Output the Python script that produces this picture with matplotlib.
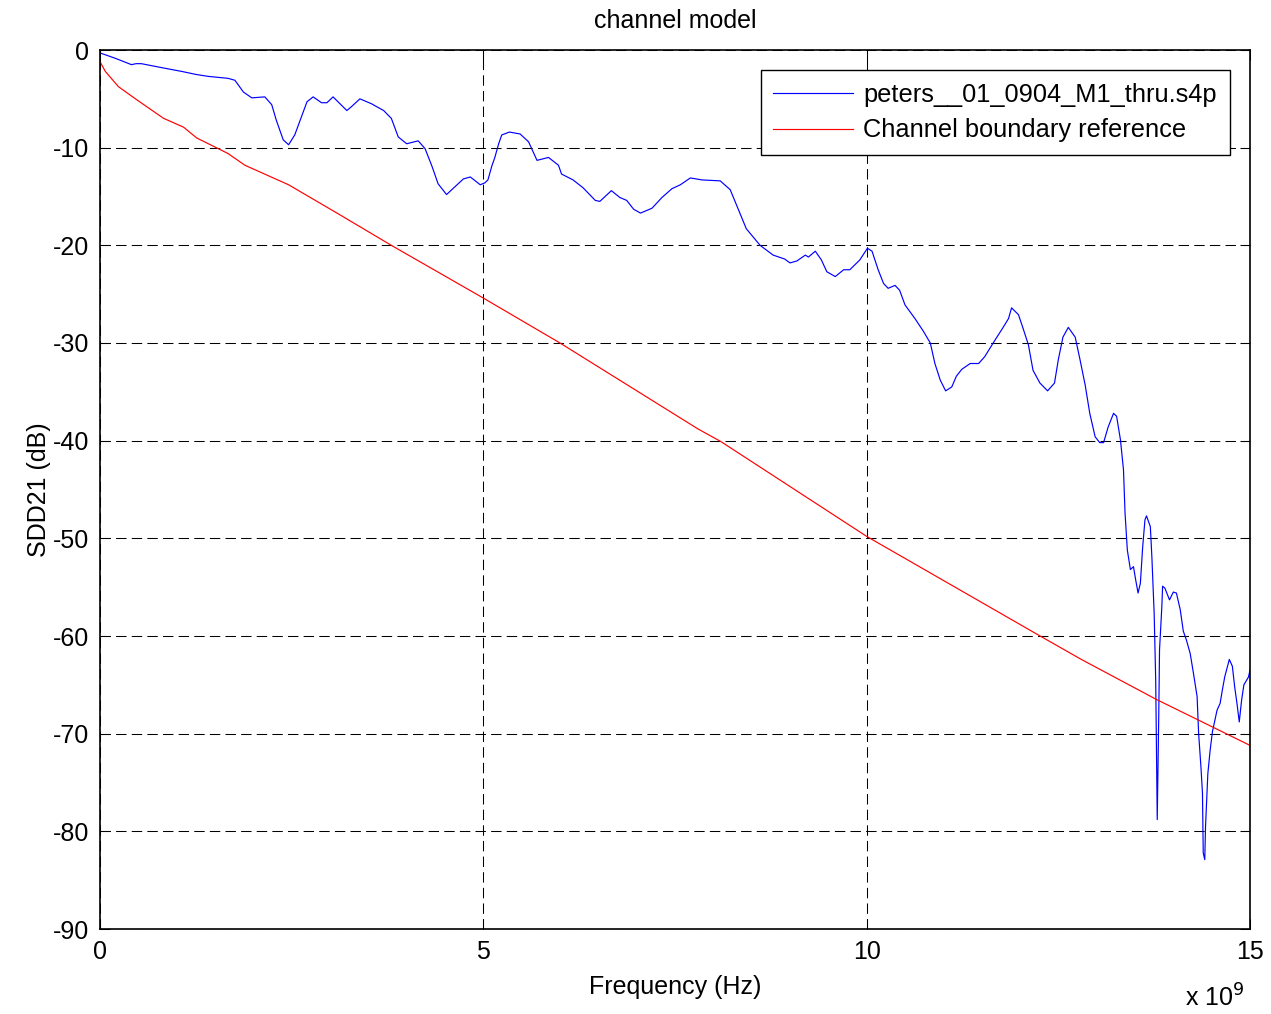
import numpy as np
import matplotlib
matplotlib.use("Agg")
import matplotlib.pyplot as plt
from matplotlib.ticker import FuncFormatter, MultipleLocator

plt.rcParams['font.family'] = ['Liberation Sans', 'DejaVu Sans']
plt.rcParams['font.size'] = 18
plt.rcParams['axes.unicode_minus'] = False

# measured thru channel, SDD21 in dB (frequency in GHz)
thru_ghz = [
    0.00, 0.20, 0.33, 0.41, 0.47, 0.54, 0.67, 0.80, 1.07, 1.25, 1.41, 1.67, 1.76, 1.87,
    1.98, 2.15, 2.24, 2.30,
    2.39, 2.46, 2.54, 2.63, 2.70, 2.78, 2.89, 2.96, 3.04, 3.13, 3.22, 3.28, 3.39, 3.54,
    3.70, 3.80, 3.89, 4.00, 4.15, 4.24, 4.33, 4.41, 4.52, 4.63, 4.74, 4.83, 4.96, 5.02,
    5.06, 5.11, 5.15, 5.20, 5.24, 5.34, 5.48, 5.59, 5.70, 5.85, 5.98, 6.02, 6.17, 6.30,
    6.46, 6.52, 6.67, 6.78, 6.87, 6.96, 7.05, 7.20, 7.33, 7.46, 7.57, 7.70, 7.85, 8.09,
    8.22, 8.33, 8.43, 8.61, 8.78, 8.93, 9.00, 9.09, 9.20, 9.24, 9.33, 9.41, 9.48, 9.59,
    9.70, 9.78, 9.91, 10.01, 10.07, 10.15, 10.22, 10.28, 10.37, 10.43, 10.50, 10.63,
    10.74, 10.83, 10.89, 10.96, 11.03, 11.11, 11.17, 11.24, 11.35, 11.46, 11.54, 11.65,
    11.78, 11.85, 11.89, 11.98, 12.04, 12.11, 12.17, 12.26, 12.36, 12.45, 12.50, 12.56,
    12.63, 12.72, 12.78, 12.85, 12.91, 12.98, 13.04, 13.09, 13.15, 13.22, 13.26, 13.31,
    13.35, 13.37, 13.40, 13.44, 13.48, 13.51, 13.54, 13.57, 13.60, 13.63, 13.65, 13.70,
    13.72, 13.75, 13.77, 13.79, 13.81, 13.82, 13.85, 13.86, 13.89, 13.95, 14.00, 14.04,
    14.09, 14.13, 14.17, 14.22, 14.26, 14.31, 14.33, 14.36, 14.38, 14.39, 14.41, 14.42,
    14.45, 14.48, 14.51, 14.57, 14.61, 14.64, 14.67, 14.73, 14.77, 14.80, 14.83, 14.86,
    14.89, 14.92, 14.98, 15.00,
]
thru_db = [
    -0.3, -0.85, -1.25, -1.5, -1.4, -1.4, -1.6, -1.8, -2.2, -2.5, -2.7, -2.9, -3.1, -4.3,
    -4.9, -4.8, -5.6, -7.2,
    -9.2, -9.7, -8.7, -6.8, -5.3, -4.8, -5.4, -5.4, -4.8, -5.5, -6.2, -5.8, -5.0, -5.5,
    -6.2, -7.0, -8.9, -9.6, -9.3, -10.1, -11.9, -13.7, -14.8, -14.0, -13.2, -13.0, -13.8, -13.6,
    -13.3, -11.9, -11.0, -9.6, -8.7, -8.4, -8.6, -9.4, -11.3, -11.0, -11.8, -12.7, -13.3, -14.1,
    -15.4, -15.5, -14.4, -15.1, -15.4, -16.3, -16.7, -16.2, -15.1, -14.2, -13.8, -13.1, -13.3, -13.4,
    -14.3, -16.4, -18.3, -20.0, -21.0, -21.4, -21.8, -21.6, -21.0, -21.2, -20.6, -21.5, -22.7, -23.2,
    -22.5, -22.5, -21.5, -20.3, -20.6, -22.5, -23.9, -24.4, -24.1, -24.6, -26.1, -27.5,
    -28.8, -30.0, -32.1, -33.8, -34.9, -34.5, -33.4, -32.7, -32.1, -32.1, -31.4, -30.0,
    -28.4, -27.5, -26.4, -27.1, -28.5, -30.2, -32.8, -34.1, -34.9, -34.1, -31.7, -29.4,
    -28.4, -29.4, -31.6, -34.3, -37.2, -39.6, -40.2, -40.2, -38.6, -37.2, -37.5, -39.9,
    -43.0, -47.4, -51.2, -53.2, -52.9, -54.3, -55.6, -54.6, -50.9, -48.1, -47.7, -48.8,
    -51.9, -57.7, -64.5, -78.8, -68.0, -61.4, -57.0, -54.9, -55.1, -56.3, -55.5, -55.6,
    -57.3, -59.5, -60.4, -61.8, -63.7, -66.2, -70.0, -73.4, -76.1, -82.2, -82.9, -79.5,
    -74.1, -71.7, -69.8, -67.6, -66.9, -65.5, -64.2, -62.4, -63.1, -65.2, -66.9, -68.8,
    -66.6, -65.0, -64.2, -63.5,
]

# channel boundary reference line
ref_ghz = [0.00, 0.07, 0.24, 0.48, 0.83, 1.09, 1.26, 1.67, 1.89, 2.46, 3.07, 3.80,
           5.00, 6.00, 7.80, 8.10, 10.00, 12.24, 12.80, 13.78, 15.00]
ref_db = [-1.2, -2.2, -3.75, -5.1, -7.0, -7.9, -9.0, -10.6, -11.8, -13.8, -16.6, -20.0,
          -25.4, -30.0, -38.8, -40.1, -49.8, -59.9, -62.4, -66.5, -71.2]

labels = ['peters__01_0904_M1_thru.s4p', 'Channel boundary reference']

thru_hz = np.array(thru_ghz) * 1e9
ref_hz = np.array(ref_ghz) * 1e9

fig = plt.figure(figsize=(12.71, 10.14), dpi=100)
ax = fig.add_axes([100 / 1271, 1 - 929 / 1014, 1150 / 1271, 879 / 1014])

ax.plot(thru_hz, thru_db, color=(0, 0, 1), lw=0.85, label=labels[0])
ax.plot(ref_hz, ref_db, color=(1, 0, 0), lw=0.85, label=labels[1])

ax.set_xlim(0, 15e9)
ax.set_ylim(-90, 0)
ax.xaxis.set_major_locator(MultipleLocator(5e9))
ax.yaxis.set_major_locator(MultipleLocator(10))
ax.xaxis.set_major_formatter(FuncFormatter(lambda v, p: '%g' % (v / 1e9)))

ax.grid(True, color='black', ls=(0, (10, 5)), lw=0.75)
ax.tick_params(direction='in', length=7, width=0.75, top=True, right=True,
               labelsize=18, pad=8)
for sp in ax.spines.values():
    sp.set_linewidth(1.2)

ax.set_title('channel model', fontsize=18, pad=16)
ax.set_xlabel('Frequency (Hz)', fontsize=18, labelpad=8)
ax.set_ylabel('SDD21 (dB)', fontsize=18, labelpad=1)
ax.text(0.995, -0.079, r'x 10$^9$', transform=ax.transAxes, ha='right', va='center',
        fontsize=18)

leg = ax.legend(loc='upper right', fontsize=18.3, fancybox=False, framealpha=1,
                edgecolor='black', borderaxespad=0.8, handlelength=3.15,
                handletextpad=0.4, labelspacing=0.45, borderpad=0.5)
leg.get_frame().set_linewidth(1.0)

fig.savefig('out.png', dpi=100)
